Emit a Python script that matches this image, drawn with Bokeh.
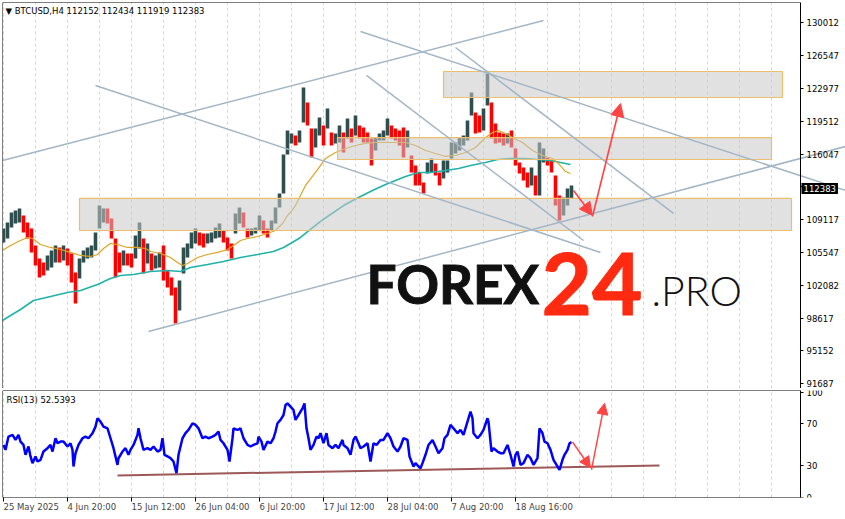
import numpy as np
from bokeh.plotting import figure
from bokeh.models import (Range1d, FixedTicker, Grid, Label, Arrow, NormalHead,
                          NumeralTickFormatter, ColumnDataSource, BoxAnnotation)
from bokeh.layouts import column
from bokeh.embed import file_html
from bokeh.resources import INLINE

# ---------------- data (prices in thousands of USD, x = H4 bar index) ----------------
col_x = list(range(3, 572, 4))
hi_k = [108.14,108.78,109.84,110.05,110.27,109.52,108.78,108.14,106.34,104.96,104.53,105.28,105.81,106.34,106.13,106.34,106.02,105.49,103.47,104.96,105.81,106.13,106.34,107.72,110.58,110.27,110.27,109.20,107.08,105.60,105.81,105.49,105.49,107.40,108.78,107.08,
        106.55,105.49,105.28,105.60,106.34,103.68,102.94,101.88,102.62,106.13,106.55,107.72,108.14,107.72,107.61,107.61,107.72,108.25,108.67,107.93,107.19,106.55,109.74,110.37,109.84,108.14,108.14,108.25,109.52,108.99,108.14,108.99,110.37,111.86,116.00,118.55,
        118.23,118.01,118.55,123.11,121.52,118.76,118.76,119.93,119.08,120.88,118.33,118.23,119.08,118.33,119.82,118.76,120.14,119.08,118.86,118.33,117.70,117.80,118.23,118.55,119.82,119.08,118.76,118.55,118.86,118.55,115.89,114.83,114.09,113.03,
        115.15,115.57,115.04,114.09,115.36,115.36,117.27,117.27,117.80,118.01,119.61,122.58,120.46,120.14,120.88,124.60,121.52,119.29,118.33,118.23,118.23,118.55,116.64,115.15,114.62,114.09,114.62,113.77,117.27,116.64,115.68,115.36,113.77,111.65,111.43,112.39,112.71]
lo_k = [106.66,107.08,108.25,108.67,108.78,107.72,107.08,105.60,104.22,102.94,103.15,103.68,104.00,104.53,104.53,104.75,104.22,102.41,100.18,102.83,104.53,104.96,105.06,105.81,108.14,108.78,108.67,107.08,102.94,103.47,104.22,104.22,104.00,104.96,106.02,103.37,
        104.43,103.68,103.90,104.00,102.62,101.88,101.03,98.06,99.44,103.37,105.06,106.02,106.55,106.34,106.13,106.55,106.66,107.08,107.19,106.66,105.81,104.96,107.61,108.67,108.25,107.19,107.40,107.61,107.93,107.61,107.19,107.93,108.67,110.37,111.86,116.00,
        117.17,116.95,117.27,119.40,119.08,115.68,116.74,118.01,116.95,118.76,116.95,117.17,117.27,116.21,117.70,117.27,118.01,117.70,117.27,117.27,114.83,116.42,117.48,117.48,118.01,117.70,117.48,116.95,115.68,116.74,114.09,112.71,112.71,111.86,
        113.98,114.09,113.77,112.71,113.45,114.09,115.57,116.10,116.42,116.95,117.48,120.14,118.23,118.33,118.55,121.20,117.70,117.17,117.27,116.95,117.17,116.74,114.83,113.98,113.24,112.50,112.71,111.65,111.65,115.15,114.83,114.09,110.58,108.99,109.52,110.58,111.33]

ma_fast_x = [2,10,20,27,32,40,50,60,70,80,90,97,103,110,117,127,137,145,150,160,170,177,182,187,197,207,217,227,233,240,
             247,257,267,275,282,287,290,295,305,315,325,335,345,355,365,375,385,395,405,415,425,435,445,455,465,475,485,492,498,505,
             512,522,532,542,552,558,565,570]
ma_fast_k = [105.81,106.34,106.87,107.19,107.08,106.44,106.13,105.91,105.60,105.28,105.17,105.38,106.02,106.55,106.44,106.13,106.13,106.02,105.70,105.49,
             105.06,104.53,104.22,104.43,105.06,105.38,105.60,105.91,106.34,106.87,107.08,107.29,107.61,107.93,108.67,109.52,109.84,110.58,112.71,114.09,
             115.57,116.21,116.64,116.95,117.17,117.27,117.27,117.27,117.27,116.95,116.42,116.10,115.79,115.89,116.21,116.74,117.80,118.33,118.55,118.23,
             117.80,117.27,116.42,115.89,115.57,115.04,114.19,113.98]
ma_slow_x = [2,10,20,33,50,67,80,97,110,120,133,150,167,180,190,207,223,240,257,273,283,290,300,310,320,330,343,358,372,385,
             395,405,418,430,445,458,470,485,497,510,525,537,550,560,570]
ma_slow_k = [98.38,98.91,99.54,100.50,100.92,101.35,101.56,102.20,102.83,103.15,103.26,103.58,103.68,103.58,104.00,104.32,104.64,105.06,105.38,105.70,
             106.13,106.55,107.19,108.04,108.89,109.63,110.58,111.43,112.18,112.81,113.24,113.66,114.09,114.09,114.30,114.51,114.83,115.15,115.47,115.57,
             115.57,115.47,115.36,115.15,114.94]

rsi_x = [3,5,8,12,15,18,20,23,25,28,30,32,35,37,40,43,47,50,52,55,57,60,63,67,70,72,73,75,78,82,85,88,92,95,97,100,103,107,110,113,
         117,118,122,125,128,130,133,137,138,140,143,147,150,153,157,160,162,164,167,170,173,176,178,182,185,188,192,195,198,202,
         205,208,212,215,218,220,223,227,229,232,233,237,240,243,247,250,253,257,258,261,263,267,270,273,275,277,280,283,285,287,
         290,293,295,298,302,304,306,308,310,313,316,318,320,323,326,328,332,335,338,342,343,347,350,353,355,358,360,363,367,370,
         373,376,380,383,387,390,393,397,400,403,407,409,413,415,418,420,422,425,428,432,435,438,442,444,447,450,453,457,460,463,
         467,470,472,473,477,480,483,487,488,491,493,497,500,503,507,510,513,515,517,520,523,527,530,533,537,539,542,544,547,550,
         553,556,559,562,564,567,569,571]
rsi_v = [49.9,45.2,57.9,59.5,54.7,59.5,53.1,49.9,40.5,48.4,38.9,32.5,38.9,34.1,35.7,43.6,46.8,49.9,43.6,56.3,51.5,53.1,53.1,48.4,51.5,45.2,29.3,42.0,49.9,56.3,57.9,56.3,61.1,67.4,75.4,72.2,67.4,65.8,56.3,46.8,
         30.9,37.2,43.6,46.8,40.5,45.2,49.9,59.5,65.8,56.3,45.2,46.8,45.2,48.4,43.6,45.2,56.3,40.5,38.9,37.3,34.1,23.0,40.5,56.3,61.1,64.2,70.6,69.0,65.8,56.3,
         57.9,56.3,57.9,59.5,62.7,54.7,51.5,45.2,34.1,56.3,65.8,64.2,65.8,56.3,49.9,48.4,49.9,51.5,57.9,53.1,45.2,53.1,51.5,56.3,62.7,70.6,73.8,78.5,88.0,89.6,
         86.5,83.3,73.8,78.5,84.9,89.6,65.8,56.3,45.2,49.9,57.9,56.3,61.1,51.5,61.1,49.9,46.8,49.9,46.8,54.7,49.9,46.8,40.5,54.7,57.9,51.5,46.8,48.4,51.5,34.1,
         51.5,49.9,54.7,54.7,61.1,56.3,48.4,43.6,48.4,56.3,54.7,38.9,29.3,32.5,29.3,27.7,32.5,40.5,49.9,54.7,48.4,42.0,46.8,56.3,59.5,69.0,65.8,61.1,64.2,59.5,
         72.2,81.7,75.4,61.1,56.3,59.5,64.2,75.4,72.2,43.6,46.8,43.6,42.0,42.0,49.9,40.5,29.3,40.5,43.6,30.9,32.5,40.5,37.3,30.9,37.3,65.8,61.1,53.1,51.5,45.2,
         35.7,30.9,26.1,35.7,40.5,45.2,51.5,52.5]

# zones and drawn lines (price in thousands)
box_left = [443, 337, 79]
box_right = [782, 771, 791]
box_top_k = [124.81, 117.80, 111.33]
box_bottom_k = [122.05, 115.47, 107.93]

tl_x0 = [2, 148, 95, 360, 455, 366]
tl_y0_k = [115.36, 97.21, 123.32, 129.06, 127.36, 124.39]
tl_x1 = [543, 845, 600, 845, 673, 583]
tl_y1_k = [130.22, 116.85, 105.60, 112.18, 109.74, 106.87]

arrow_x0 = [573, 592]
arrow_y0_k = [112.18, 109.42]
arrow_x1 = [592, 620]
arrow_y1_k = [109.52, 121.41]

rsi_arrow_x0 = [572, 591]
rsi_arrow_y0 = [52.7, 26.2]
rsi_arrow_x1 = [590, 604]
rsi_arrow_y1 = [28.1, 89.6]
rsi_tl_x = [117, 659]
rsi_tl_y = [20.8, 30.3]

price_ticks = [91687, 95152, 98617, 102082, 105547, 109117, 112582, 116047, 119512, 122977, 126547, 130012]
last_price = 112383
header = "BTCUSD,H4  112152 112434 111919 112383"
rsi_title = "RSI(13) 52.5393"
rsi_ticks = [0, 30, 70, 100]
rsi_levels = [30, 70]
time_ticks = [3, 67, 131, 195, 259, 323, 387, 451, 515]
time_labels = ["25 May 2025", "4 Jun 20:00", "15 Jun 12:00", "26 Jun 04:00", "6 Jul 20:00",
               "17 Jul 12:00", "28 Jul 04:00", "7 Aug 20:00", "18 Aug 16:00"]
grid_x = list(range(3, 800, 32))
last_bar = 800          # chart shift: price scale sits at this bar position

# ---------------- styling ----------------
FONT = "DejaVu Sans"
FS = "8.5px"
BULL = "#2f4f4f"
BEAR = "#ff0000"
GRID = "#d4d4d4"
RED = "#ff4444"


def style_price_axis(a, ticks):
    a.ticker = FixedTicker(ticks=ticks)
    a.fixed_location = last_bar
    a.major_tick_out = 3
    a.major_tick_in = 0
    a.minor_tick_line_color = None
    a.axis_line_color = "black"
    a.major_tick_line_color = "black"
    a.major_label_standoff = 3
    a.major_label_text_font = FONT
    a.major_label_text_font_size = FS
    a.major_label_text_color = "black"


def frame_decor(fig):
    for g in fig.grid:
        g.visible = False
    fig.add_layout(Grid(dimension=0, ticker=FixedTicker(ticks=grid_x),
                        grid_line_color=GRID, grid_line_dash="3 3"))
    # keep the price-scale strip clean (grid stops at the scale)
    fig.add_layout(BoxAnnotation(left=last_bar, fill_color="white", fill_alpha=1.0,
                                 line_color=None, level="underlay"))
    # panel border
    fig.add_layout(BoxAnnotation(left=2, right=last_bar, fill_alpha=0.0,
                                 line_color="black", line_width=1, line_alpha=1.0))


x_rng = Range1d(2, 845)

# ---------------- price panel ----------------
p = figure(width=845, height=388, output_backend="svg", toolbar_location=None,
           x_range=x_rng, y_range=Range1d(91156, 132135),
           x_axis_location=None, y_axis_location="right",
           min_border_left=2, min_border_right=0, min_border_top=2, min_border_bottom=0,
           outline_line_color=None)
p.add_layout(Grid(dimension=1, ticker=FixedTicker(ticks=price_ticks),
                  grid_line_color=GRID, grid_line_dash="3 3"))
frame_decor(p)
ax = p.yaxis[0]
style_price_axis(ax, price_ticks)
ax.formatter = NumeralTickFormatter(format="0")
ax.major_label_overrides = {112582: ""}

hi = np.array(hi_k) * 1000
lo = np.array(lo_k) * 1000
mid = (hi + lo) / 2
up = np.r_[True, mid[1:] >= mid[:-1]]
colors = np.where(up, BULL, BEAR)
src = ColumnDataSource(dict(x=col_x, top=hi, bottom=lo, color=list(colors)))
p.vbar(x="x", top="top", bottom="bottom", width=3.6, fill_color="color",
       line_color=None, source=src)

p.line(ma_slow_x, np.array(ma_slow_k) * 1000, line_color="#20b2aa", line_width=1.6)
p.line(ma_fast_x, np.array(ma_fast_k) * 1000, line_color="#daa520", line_width=1.2)

p.quad(left=box_left, right=box_right, top=np.array(box_top_k) * 1000,
       bottom=np.array(box_bottom_k) * 1000, fill_color="#c8c8c8", fill_alpha=0.55,
       line_color="#edbf6c", line_width=1.2)

p.segment(tl_x0, np.array(tl_y0_k) * 1000, tl_x1, np.array(tl_y1_k) * 1000,
          line_color="#a3b6c6", line_width=1.5)

for xs, ys, xe, ye in zip(arrow_x0, arrow_y0_k, arrow_x1, arrow_y1_k):
    p.add_layout(Arrow(end=NormalHead(size=13, fill_color=RED, line_color=RED),
                       x_start=xs, y_start=ys * 1000, x_end=xe, y_end=ye * 1000,
                       line_color=RED, line_width=1.6))

p.add_layout(Label(x=5, y=131180, text="\u25bc " + header, text_font=FONT,
                   text_font_size=FS, text_baseline="middle", text_color="black"))
p.add_layout(Label(x=801, y=last_price, text=str(last_price), text_font=FONT,
                   text_font_size=FS, text_baseline="middle", text_color="white",
                   background_fill_color="black", padding=2))

# logo
p.add_layout(Label(x=366, y=98910, text="FOREX", text_font="Lato",
                   text_font_style="bold", text_font_size="53px", text_color="#111111",
                   text_outline_color="#111111"))
p.add_layout(Label(x=541, y=98910, text="24", text_font="Lato",
                   text_font_style="bold", text_font_size="87px", text_color="#ff2a10",
                   text_outline_color="#ff2a10"))
p.add_layout(Label(x=651, y=98910, text=".PRO", text_font="Lato Light",
                   text_font_size="41px", text_color="#111111"))

# ---------------- RSI panel ----------------
p2 = figure(width=845, height=131, output_backend="svg", toolbar_location=None,
            x_range=x_rng, y_range=Range1d(-0.3, 101.9), y_axis_location="right",
            min_border_left=2, min_border_right=0, min_border_top=2, min_border_bottom=21,
            outline_line_color=None)
p2.add_layout(Grid(dimension=1, ticker=FixedTicker(ticks=rsi_levels),
                   grid_line_color="#b8b8b8", grid_line_dash="4 3"))
frame_decor(p2)
style_price_axis(p2.yaxis[0], rsi_ticks)

ax2 = p2.xaxis[0]
ax2.ticker = FixedTicker(ticks=time_ticks)
ax2.major_label_overrides = dict(zip(time_ticks, time_labels))
ax2.major_label_orientation = -0.0001
ax2.axis_line_color = None
ax2.major_tick_out = 4
ax2.major_tick_in = 0
ax2.major_tick_line_color = "black"
ax2.minor_tick_line_color = None
ax2.major_label_standoff = 5
ax2.major_label_text_font = FONT
ax2.major_label_text_font_size = FS

p2.segment([rsi_tl_x[0]], [rsi_tl_y[0]], [rsi_tl_x[1]], [rsi_tl_y[1]],
           line_color="#8c3b3b", line_width=2, line_alpha=0.85)
p2.line(rsi_x, rsi_v, line_color="#0000ff", line_width=2.5)
for xs, ys, xe, ye in zip(rsi_arrow_x0, rsi_arrow_y0, rsi_arrow_x1, rsi_arrow_y1):
    p2.add_layout(Arrow(end=NormalHead(size=11, fill_color=RED, line_color=RED),
                        x_start=xs, y_start=ys, x_end=xe, y_end=ye,
                        line_color=RED, line_width=1.4))
p2.add_layout(Label(x=6, y=92.7, text=rsi_title, text_font=FONT, text_font_size=FS,
                    text_baseline="middle", text_color="black"))

layout = column(p, p2)
open("out.html", "w").write(file_html(layout, INLINE))
